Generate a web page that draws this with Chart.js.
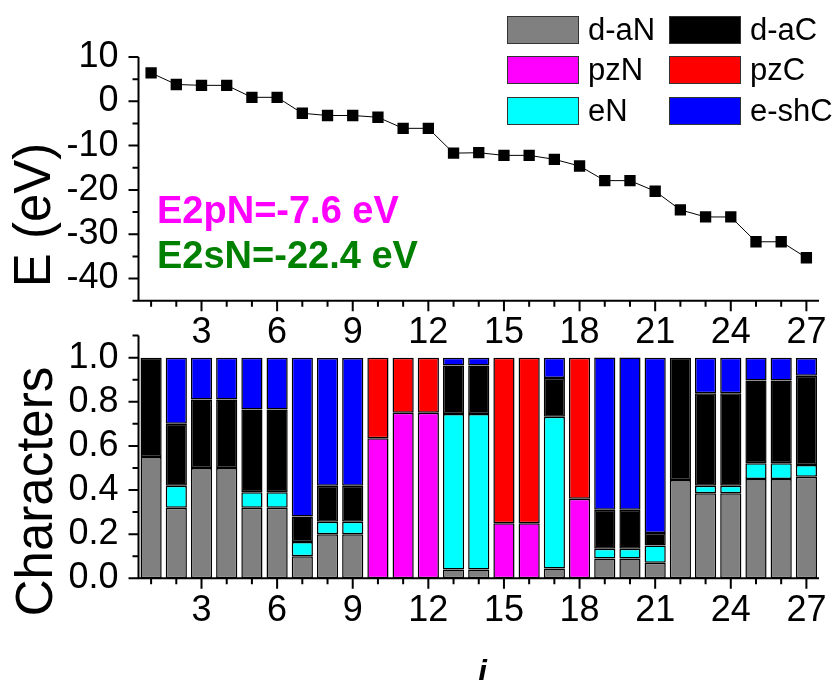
<!DOCTYPE html>
<html>
<head>
<meta charset="utf-8">
<script src="https://cdn.jsdelivr.net/npm/chart.js@4/dist/chart.umd.min.js"></script>
<style>
body { margin: 0; background: #fff; width: 838px; height: 680px; overflow: hidden; position: relative; }
canvas { position: absolute; left: 0; }
#top { top: 0; }
#bot { top: 320px; }
</style>
</head>
<body>
<canvas id="top" width="838" height="360"></canvas>
<canvas id="bot" width="838" height="360"></canvas>
<script>
// level index i
const levels = [1, 2, 3, 4, 5, 6, 7, 8, 9, 10, 11, 12, 13, 14, 15, 16, 17, 18, 19, 20, 21, 22, 23, 24, 25, 26, 27];

// orbital energies (eV)
const energy = [6.4, 3.8, 3.6, 3.6, 0.9, 0.9, -2.7, -3.2, -3.2, -3.6, -6.1, -6.1, -11.7, -11.6,
    -12.2, -12.2, -13.1, -14.6, -17.9, -17.9, -20.3, -24.5, -26.1, -26.1, -31.7, -31.7, -35.3];

// characters, stacked bottom to top
const dAN  = [0.55, 0.32, 0.50, 0.50, 0.32, 0.32, 0.10, 0.20, 0.20, 0, 0, 0, 0.04, 0.04, 0, 0, 0.044, 0, 0.09, 0.09, 0.07, 0.446, 0.386, 0.386, 0.45, 0.45, 0.46];
const pzN  = [0, 0, 0, 0, 0, 0, 0, 0, 0, 0.635, 0.75, 0.75, 0, 0, 0.25, 0.25, 0, 0.36, 0, 0, 0, 0, 0, 0, 0, 0, 0];
const eN   = [0, 0.10, 0, 0, 0.07, 0.07, 0.065, 0.056, 0.056, 0, 0, 0, 0.705, 0.705, 0, 0, 0.688, 0, 0.044, 0.044, 0.079, 0, 0.033, 0.033, 0.071, 0.071, 0.053];
const dAC  = [0.45, 0.28, 0.31, 0.31, 0.375, 0.375, 0.115, 0.163, 0.163, 0, 0, 0, 0.22, 0.22, 0, 0, 0.176, 0, 0.177, 0.177, 0.056, 0.554, 0.42, 0.42, 0.376, 0.376, 0.405];
const pzC  = [0, 0, 0, 0, 0, 0, 0, 0, 0, 0.365, 0.25, 0.25, 0, 0, 0.75, 0.75, 0, 0.64, 0, 0, 0, 0, 0, 0, 0, 0, 0];
const eshC = [0, 0.30, 0.19, 0.19, 0.235, 0.235, 0.72, 0.58, 0.58, 0, 0, 0, 0.035, 0.035, 0, 0, 0.092, 0, 0.69, 0.69, 0.795, 0, 0.161, 0.161, 0.103, 0.103, 0.081];

const seriesNames  = ['d-aN', 'pzN', 'eN', 'd-aC', 'pzC', 'e-shC'];
const seriesData   = [dAN, pzN, eN, dAC, pzC, eshC];
const seriesColors = ['#808080', '#ff00ff', '#00ffff', '#000000', '#ff0000', '#0000ff'];

const FONT = '"Liberation Sans", Arial, sans-serif';
Chart.defaults.font.family = FONT;
Chart.defaults.color = '#000';

// axis lines + major/minor tick marks (labelled ticks are longer)
const axisPlugin = {
    id: 'axisTicks',
    afterDraw(chart) {
        let ctx = chart.ctx;
        let a = chart.chartArea;
        let xs = chart.scales.x, ys = chart.scales.y;
        ctx.save();
        ctx.strokeStyle = '#000';
        ctx.lineWidth = 2;
        ctx.beginPath();
        ctx.moveTo(a.left, a.top);
        ctx.lineTo(a.left, a.bottom);
        ctx.moveTo(a.left - 1, a.bottom);
        ctx.lineTo(a.right, a.bottom);
        xs.ticks.forEach((t, i) => {
            let px = xs.getPixelForTick(i);
            let len = t.label ? 10.5 : 6;
            ctx.moveTo(px, a.bottom);
            ctx.lineTo(px, a.bottom + len);
        });
        ys.ticks.forEach((t, i) => {
            let py = ys.getPixelForTick(i);
            let len = t.label !== '' ? 10 : 6;
            ctx.moveTo(a.left, py);
            ctx.lineTo(a.left - len, py);
        });
        ctx.stroke();
        ctx.restore();
    }
};

function textPlugin(items) {
    return {
        id: 'texts',
        afterDraw(chart) {
            let ctx = chart.ctx;
            items.forEach((t) => {
                ctx.save();
                ctx.font = t.font;
                ctx.fillStyle = t.color || '#000';
                ctx.textAlign = t.align || 'left';
                ctx.textBaseline = 'alphabetic';
                ctx.translate(t.x, t.y);
                if (t.rotate) ctx.rotate(t.rotate);
                ctx.fillText(t.text, 0, 0);
                ctx.restore();
            });
        }
    };
}

// legend in two columns, drawn on the upper panel
const legendPlugin = {
    id: 'barLegend',
    afterDraw(chart) {
        let ctx = chart.ctx;
        let boxX = [507, 669], textX = [588, 750], rowY = [16, 56, 97];
        ctx.save();
        ctx.font = '31px ' + FONT;
        ctx.textBaseline = 'middle';
        seriesNames.forEach((name, k) => {
            let col = Math.floor(k / 3), row = k % 3;
            ctx.fillStyle = seriesColors[k];
            ctx.fillRect(boxX[col], rowY[row], 71, 27);
            ctx.strokeStyle = '#333';
            ctx.lineWidth = 1;
            ctx.strokeRect(boxX[col] + 0.5, rowY[row] + 0.5, 71, 27);
            ctx.fillStyle = '#000';
            ctx.fillText(name, textX[col], rowY[row] + 15);
        });
        ctx.restore();
    }
};

function xTicks() {
    return {
        autoSkip: false,
        maxRotation: 0,
        padding: 3,
        font: { size: 36 },
        callback: (v, i) => (levels[i] % 3 === 0 ? String(levels[i]) : '')
    };
}

new Chart('top', {
    type: 'line',
    data: {
        labels: levels,
        datasets: [{
            data: energy,
            borderColor: '#000',
            borderWidth: 1,
            pointStyle: 'rect',
            pointRadius: 8,
            pointBackgroundColor: '#000',
            pointBorderColor: '#000',
            pointBorderWidth: 0,
            tension: 0
        }]
    },
    options: {
        responsive: false,
        animation: false,
        devicePixelRatio: 1,
        layout: { padding: { left: 0, right: 19, top: 57, bottom: 0 } },
        plugins: { legend: { display: false }, tooltip: { enabled: false } },
        scales: {
            x: {
                type: 'category',
                offset: true,
                grid: { display: false },
                border: { display: false },
                ticks: xTicks(),
                afterFit(s) { s.height = 59.3; s.paddingLeft = 0; s.paddingRight = 0; }
            },
            y: {
                min: -45,
                max: 10,
                grid: { display: false },
                border: { display: false },
                ticks: {
                    autoSkip: false,
                    stepSize: 5,
                    padding: 12,
                    font: { size: 36 },
                    callback: (v) => (v % 10 === 0 ? String(v) : '')
                },
                afterFit(s) { s.width = 138.5; s.paddingTop = 0; s.paddingBottom = 0; }
            }
        }
    },
    plugins: [axisPlugin, legendPlugin, textPlugin([
        { text: 'E (eV)', x: 50, y: 215, rotate: -Math.PI / 2, align: 'center', font: '51px ' + FONT },
        { text: 'E2pN=-7.6 eV', x: 157, y: 223, color: '#ff00ff', font: 'bold 38px ' + FONT },
        { text: 'E2sN=-22.4 eV', x: 157, y: 268, color: '#008000', font: 'bold 38px ' + FONT }
    ])]
});

new Chart('bot', {
    type: 'bar',
    data: {
        labels: levels,
        datasets: seriesNames.map((name, k) => ({
            label: name,
            data: seriesData[k].map((v) => (v === 0 ? null : v)),
            backgroundColor: seriesColors[k],
            borderColor: '#000',
            borderWidth: 1.5,
            borderSkipped: false,
            barPercentage: 0.84,
            categoryPercentage: 1
        }))
    },
    options: {
        responsive: false,
        animation: false,
        devicePixelRatio: 1,
        layout: { padding: { left: 0, right: 19, top: 15.6, bottom: 0 } },
        plugins: { legend: { display: false }, tooltip: { enabled: false } },
        scales: {
            x: {
                stacked: true,
                grid: { display: false },
                border: { display: false },
                ticks: xTicks(),
                afterFit(s) { s.height = 101.7; s.paddingLeft = 0; s.paddingRight = 0; }
            },
            y: {
                stacked: true,
                min: 0,
                max: 1.1,
                grid: { display: false },
                border: { display: false },
                ticks: {
                    autoSkip: false,
                    stepSize: 0.1,
                    padding: 12,
                    font: { size: 36 },
                    callback: (v) => {
                        let k = Math.round(v * 10);
                        return k % 2 === 0 && k <= 10 ? (k / 10).toFixed(1) : '';
                    }
                },
                afterFit(s) { s.width = 138.5; s.paddingTop = 0; s.paddingBottom = 0; }
            }
        }
    },
    plugins: [axisPlugin, textPlugin([
        { text: 'Characters', x: 52, y: 171.5, rotate: -Math.PI / 2, align: 'center', font: '51px ' + FONT },
        { text: 'i', x: 478, y: 362, font: 'italic bold 32px ' + FONT }
    ])]
});
</script>
</body>
</html>
